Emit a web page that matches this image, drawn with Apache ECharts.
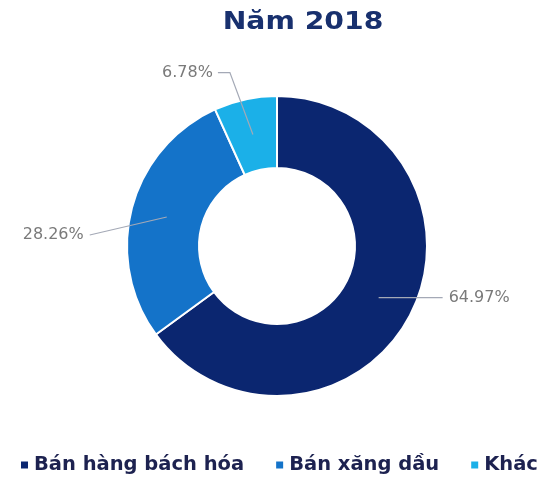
<!DOCTYPE html>
<html>
<head>
<meta charset="utf-8">
<script src="https://cdn.jsdelivr.net/npm/echarts@6/dist/echarts.min.js"></script>
<style>
  html, body { margin: 0; padding: 0; background: #ffffff; }
  #chart { width: 545px; height: 483px; }
</style>
</head>
<body>
<div id="chart"></div>
<script>
// Revenue structure, year 2018
const categories = ['Bán hàng bách hóa', 'Bán xăng dầu', 'Khác'];
const shares = [64.97, 28.26, 6.78];
const colors = ['#0b2670', '#1473c9', '#1bb0e8'];
const titleText = 'Năm 2018';

const CENTER = [277, 246];
const R_IN = 78, R_OUT = 150;

// Mid angle (radians, screen coords) of each slice, clockwise from 12 o'clock
function midAngle(i) {
  const total = shares.reduce((a, b) => a + b, 0);
  let before = 0;
  for (let k = 0; k < i; k++) before += shares[k];
  const frac = (before + shares[i] / 2) / total;
  return -Math.PI / 2 + frac * 2 * Math.PI;
}

// Leader lines start in the middle of the ring and run out to the label
const labelPlacement = [
  { bend: [0, 0], end: [64, 0], align: 'left', gap: 6 },
  { bend: [0, 0], end: [-77, 18], align: 'right', gap: 6 },
  { bend: [-23, -62], end: [-35, -62], align: 'right', gap: 5 }
];

function labelLayout(params) {
  const i = params.dataIndex;
  const a = midAngle(i);
  const rm = (R_IN + R_OUT) / 2;
  const sx = CENTER[0] + rm * Math.cos(a);
  const sy = CENTER[1] + rm * Math.sin(a);
  const pl = labelPlacement[i];
  const b = [sx + pl.bend[0], sy + pl.bend[1]];
  const e = [sx + pl.end[0], sy + pl.end[1]];
  const lx = pl.align === 'left' ? e[0] + pl.gap : e[0] - pl.gap;
  return {
    x: lx,
    y: e[1],
    align: pl.align,
    verticalAlign: 'middle',
    labelLinePoints: [[sx, sy], b, e]
  };
}

const pieData = categories.map((name, i) => ({ name, value: shares[i] }));

const chart = echarts.init(document.getElementById('chart'));

chart.setOption({
  backgroundColor: '#ffffff',
  graphic: [{
    type: 'text',
    x: 303,
    y: 22,
    scaleX: 1.13,
    originX: 0,
    style: {
      text: titleText,
      x: 0,
      y: 0,
      align: 'center',
      verticalAlign: 'middle',
      font: 'bold 25px "DejaVu Sans"',
      fill: '#18306e'
    }
  }],
  color: colors,
  legend: {
    top: 455,
    left: 19,
    width: 540,
    padding: 0,
    itemWidth: 9,
    itemHeight: 9,
    itemGap: 30,
    icon: 'rect',
    textStyle: {
      fontFamily: 'DejaVu Sans',
      fontWeight: 'bold',
      fontSize: 19.5,
      color: '#1d2250'
    },
    data: categories
  },
  series: [{
    // the ring itself
    type: 'pie',
    center: CENTER,
    radius: [R_IN, R_OUT],
    startAngle: 90,
    clockwise: true,
    silent: true,
    z: 2,
    itemStyle: { borderColor: '#ffffff', borderWidth: 2 },
    label: { show: false },
    labelLine: { show: false },
    data: pieData
  }, {
    // transparent overlay carrying the percentage labels and leader lines
    type: 'pie',
    center: CENTER,
    radius: [R_IN, R_OUT],
    startAngle: 90,
    clockwise: true,
    silent: true,
    z: 5,
    legendHoverLink: false,
    itemStyle: { color: 'rgba(0,0,0,0)', borderWidth: 0 },
    label: {
      show: true,
      position: 'outside',
      formatter: p => p.value.toFixed(2) + '%',
      fontFamily: 'DejaVu Sans',
      fontSize: 16,
      color: '#7a7a7a'
    },
    labelLine: {
      show: true,
      lineStyle: { color: '#a4a9b6', width: 1.2 }
    },
    labelLayout: labelLayout,
    data: pieData
  }]
});
</script>
</body>
</html>
